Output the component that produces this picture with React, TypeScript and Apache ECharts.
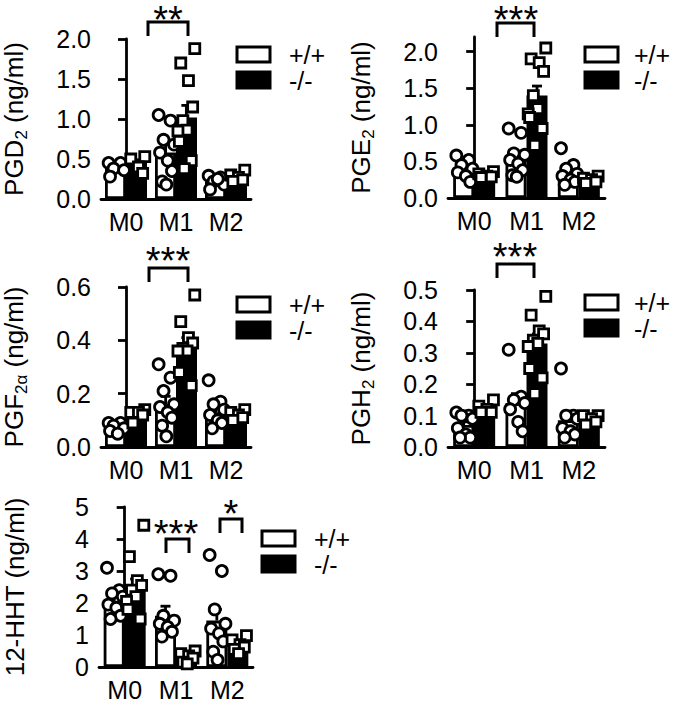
import React, { useEffect, useRef } from 'react';
import * as echarts from 'echarts';

const FONT = '"Liberation Sans", Arial, Helvetica, sans-serif';

const categories = ['M0', 'M1', 'M2'];
const legendNames = ['+/+', '-/-'];

// PGD2 (ng/ml)
const pgd2Ticks = [0, 0.5, 1.0, 1.5, 2.0];
const pgd2WtMean = [0.39, 0.58, 0.22];
const pgd2WtSem = [0.03, 0.1, 0.03];
const pgd2KoMean = [0.45, 1.02, 0.28];
const pgd2KoSem = [0.04, 0.15, 0.03];
const pgd2WtPts = [
  [0.45, 0.45, 0.38, 0.36, 0.28],
  [1.05, 0.98, 0.74, 0.68, 0.58, 0.48, 0.35, 0.22, 0.18],
  [0.29, 0.27, 0.22, 0.18, 0.12, 0.25],
];
const pgd2KoPts = [
  [0.53, 0.5, 0.4, 0.32],
  [1.88, 1.7, 1.48, 1.15, 0.98, 0.86, 0.85, 0.72, 0.48, 0.38],
  [0.36, 0.3, 0.27, 0.24, 0.22],
];

// PGE2 (ng/ml)
const pge2Ticks = [0, 0.5, 1.0, 1.5, 2.0];
const pge2WtMean = [0.4, 0.56, 0.34];
const pge2WtSem = [0.05, 0.08, 0.05];
const pge2KoMean = [0.32, 1.4, 0.25];
const pge2KoSem = [0.02, 0.13, 0.02];
const pge2WtPts = [
  [0.58, 0.52, 0.45, 0.4, 0.35, 0.3, 0.22],
  [0.95, 0.89, 0.61, 0.59, 0.52, 0.47, 0.38, 0.31, 0.29],
  [0.68, 0.45, 0.4, 0.33, 0.3, 0.25, 0.22, 0.18],
];
const pge2KoPts = [
  [0.36, 0.33, 0.3, 0.29, 0.28],
  [2.05, 1.9, 1.85, 1.73, 1.4, 1.22, 1.15, 1.1, 0.95, 0.72],
  [0.3, 0.27, 0.25, 0.22, 0.2],
];

// PGF2alpha (ng/ml)
const pgfTicks = [0, 0.2, 0.4, 0.6];
const pgfWtMean = [0.07, 0.16, 0.13];
const pgfWtSem = [0.01, 0.03, 0.02];
const pgfKoMean = [0.12, 0.38, 0.12];
const pgfKoSem = [0.01, 0.03, 0.01];
const pgfWtPts = [
  [0.09, 0.09, 0.08, 0.07, 0.06, 0.05],
  [0.31, 0.26, 0.21, 0.16, 0.15, 0.13, 0.11, 0.08, 0.04],
  [0.25, 0.17, 0.16, 0.14, 0.12, 0.1, 0.09, 0.07],
];
const pgfKoPts = [
  [0.14, 0.13, 0.13, 0.12, 0.09],
  [0.57, 0.47, 0.41, 0.39, 0.37, 0.36, 0.36, 0.28, 0.23],
  [0.14, 0.13, 0.12, 0.11, 0.1],
];

// PGH2 (ng/ml)
const pghTicks = [0, 0.1, 0.2, 0.3, 0.4, 0.5];
const pghWtMean = [0.07, 0.14, 0.085];
const pghWtSem = [0.01, 0.03, 0.025];
const pghKoMean = [0.125, 0.33, 0.09];
const pghKoSem = [0.01, 0.03, 0.005];
const pghWtPts = [
  [0.11, 0.1, 0.1, 0.09, 0.06, 0.04, 0.03, 0.03],
  [0.31, 0.16, 0.15, 0.14, 0.12, 0.08, 0.05],
  [0.25, 0.1, 0.1, 0.09, 0.06, 0.05, 0.04, 0.03],
];
const pghKoPts = [
  [0.15, 0.13, 0.12, 0.11, 0.11],
  [0.48, 0.42, 0.37, 0.36, 0.34, 0.33, 0.32, 0.25, 0.22, 0.17],
  [0.1, 0.1, 0.09, 0.08, 0.07],
];

// 12-HHT (ng/ml)
const hhtTicks = [0, 1, 2, 3, 4, 5];
const hhtWtMean = [2.05, 1.6, 1.45];
const hhtWtSem = [0.18, 0.3, 0.35];
const hhtKoMean = [2.55, 0.32, 0.68];
const hhtKoSem = [0.2, 0.07, 0.08];
const hhtWtPts = [
  [3.1, 2.4, 2.3, 2.2, 1.95, 1.85, 1.6, 1.5],
  [2.9, 2.85, 1.6, 1.45, 1.35, 1.25, 1.1, 0.95],
  [3.5, 3.0, 1.8, 1.35, 1.2, 1.05, 0.8, 0.48, 0.22],
];
const hhtKoPts = [
  [4.43, 3.45, 2.7, 2.55, 2.4, 2.2, 2.05, 1.8, 1.5],
  [0.5, 0.42, 0.35, 0.28, 0.15, 0.1],
  [0.98, 0.85, 0.7, 0.62, 0.55, 0.42],
];

const panels = [
  { name: '{a|PGD}{s|2}{a| (ng/ml)}', ticks: pgd2Ticks, max: 2, digits: 1, wtMean: pgd2WtMean, wtSem: pgd2WtSem, koMean: pgd2KoMean, koSem: pgd2KoSem, wtPts: pgd2WtPts, koPts: pgd2KoPts,
    grid: { left: 99, top: 39, width: 152, height: 160 } },
  { name: '{a|PGE}{s|2}{a| (ng/ml)}', ticks: pge2Ticks, max: 2.2, digits: 1, wtMean: pge2WtMean, wtSem: pge2WtSem, koMean: pge2KoMean, koSem: pge2KoSem, wtPts: pge2WtPts, koPts: pge2KoPts,
    grid: { left: 448, top: 37, width: 157, height: 161 } },
  { name: '{a|PGF}{s|2α}{a| (ng/ml)}', ticks: pgfTicks, max: 0.6, digits: 1, wtMean: pgfWtMean, wtSem: pgfWtSem, koMean: pgfKoMean, koSem: pgfKoSem, wtPts: pgfWtPts, koPts: pgfKoPts,
    grid: { left: 99, top: 287, width: 152, height: 160 } },
  { name: '{a|PGH}{s|2}{a| (ng/ml)}', ticks: pghTicks, max: 0.5, digits: 1, wtMean: pghWtMean, wtSem: pghWtSem, koMean: pghKoMean, koSem: pghKoSem, wtPts: pghWtPts, koPts: pghKoPts,
    grid: { left: 448, top: 290, width: 157, height: 157 } },
  { name: '{a|12-HHT (ng/ml)}', ticks: hhtTicks, max: 5, digits: 0, wtMean: hhtWtMean, wtSem: hhtWtSem, koMean: hhtKoMean, koSem: hhtKoSem, wtPts: hhtWtPts, koPts: hhtKoPts,
    grid: { left: 99, top: 507, width: 154, height: 160 } },
];

// annotation layout (pixels)
const brackets = [
  { x1: 148, x2: 188, top: 22, bottom: 36, stars: '**', sx: 168, sy: 11 },
  { x1: 497, x2: 534, top: 23, bottom: 37, stars: '***', sx: 516, sy: 11 },
  { x1: 149, x2: 188, top: 268, bottom: 282, stars: '***', sx: 168, sy: 252 },
  { x1: 497, x2: 534, top: 264, bottom: 278, stars: '***', sx: 515, sy: 248 },
  { x1: 166, x2: 189, top: 539, bottom: 553, stars: '***', sx: 176, sy: 525 },
  { x1: 220, x2: 242, top: 519, bottom: 533, stars: '*', sx: 231, sy: 505 },
];
const legends = [
  { x: 237, y: 47, tx: 289 },
  { x: 585, y: 47, tx: 634 },
  { x: 237, y: 297, tx: 289 },
  { x: 585, y: 295, tx: 634 },
  { x: 262, y: 531, tx: 314 },
];

const jitter = [-0.5, 0.35, -0.15, 0.6, -0.4, 0.15, 0.45, -0.25, 0.05, -0.6];

const BAR_W = 21;
const LW = 2.8;
const TICK_FS = 25;
const NAME_FS = 26;

function buildOption() {
  const grid: any[] = [];
  const xAxis: any[] = [];
  const yAxis: any[] = [];
  const series: any[] = [];
  const graphic: any[] = [];

  panels.forEach((p, g) => {
    grid.push({ ...p.grid, containLabel: false });
    xAxis.push({
      type: 'category', data: categories, gridIndex: g,
      axisLine: { lineStyle: { color: '#000', width: LW } },
      axisTick: { show: false },
      axisLabel: { color: '#000', fontSize: TICK_FS, fontFamily: FONT, margin: 10 },
    });
    xAxis.push({ type: 'value', gridIndex: g, min: -0.5, max: 2.5, show: false });
    yAxis.push({
      type: 'value', gridIndex: g, min: 0, max: p.max,
      axisLine: { show: true, lineStyle: { color: '#000', width: LW } },
      axisTick: { show: true, length: 8, lineStyle: { color: '#000', width: LW }, customValues: p.ticks },
      axisLabel: { color: '#000', fontSize: TICK_FS, fontFamily: FONT, margin: 10, customValues: p.ticks,
        formatter: (v: number) => v.toFixed(p.digits) },
      splitLine: { show: false },
      name: p.name, nameLocation: 'middle', nameRotate: 90, nameGap: 71,
      nameTextStyle: {
        rich: {
          a: { fontSize: NAME_FS, fontFamily: FONT, color: '#000' },
          s: { fontSize: 17, fontFamily: FONT, color: '#000', padding: [15, 0, 0, 0] },
        },
      },
    });
    const catW = p.grid.width / 3;
    const off = (BAR_W / 2) / catW;
    const common = { xAxisIndex: 2 * g, yAxisIndex: g, barWidth: BAR_W, barGap: '0%', z: 2 };
    series.push({ ...common, type: 'bar', name: legendNames[0], data: p.wtMean,
      itemStyle: { color: '#fff', borderColor: '#000', borderWidth: LW } });
    series.push({ ...common, type: 'bar', name: legendNames[1], data: p.koMean,
      itemStyle: { color: '#000', borderColor: '#000', borderWidth: LW } });

    const errData: any[] = [];
    p.wtMean.forEach((m, i) => errData.push([i - off, m, p.wtSem[i]]));
    p.koMean.forEach((m, i) => errData.push([i + off, m, p.koSem[i]]));
    series.push({
      type: 'custom', xAxisIndex: 2 * g + 1, yAxisIndex: g, z: 3, data: errData,
      encode: { x: 0, y: 1 },
      renderItem: (params: any, api: any) => {
        const x = api.value(0), m = api.value(1), s = api.value(2);
        const p0 = api.coord([x, m]);
        const p1 = api.coord([x, m + s]);
        return {
          type: 'group',
          children: [
            { type: 'line', shape: { x1: p0[0], y1: p0[1], x2: p1[0], y2: p1[1] }, style: { stroke: '#000', lineWidth: LW } },
            { type: 'line', shape: { x1: p1[0] - 5, y1: p1[1], x2: p1[0] + 5, y2: p1[1] }, style: { stroke: '#000', lineWidth: LW } },
          ],
        };
      },
    });

    const spread = 0.28;
    const wt: any[] = [];
    p.wtPts.forEach((arr, i) => arr.forEach((v, k) => wt.push([i - off + jitter[k % jitter.length] * spread, v])));
    const ko: any[] = [];
    p.koPts.forEach((arr, i) => arr.forEach((v, k) => ko.push([i + off + jitter[(k + 3) % jitter.length] * spread, v])));
    const ptStyle = { color: '#fff', borderColor: '#000', borderWidth: LW, opacity: 1 };
    series.push({ type: 'scatter', name: 'wt points', xAxisIndex: 2 * g + 1, yAxisIndex: g, z: 4, data: wt,
      symbol: 'circle', symbolSize: 11, itemStyle: ptStyle });
    series.push({ type: 'scatter', name: 'ko points', xAxisIndex: 2 * g + 1, yAxisIndex: g, z: 4, data: ko,
      symbol: 'rect', symbolSize: 10, itemStyle: ptStyle });
  });

  brackets.forEach((b) => {
    graphic.push({
      type: 'polyline', silent: true,
      shape: { points: [[b.x1, b.bottom], [b.x1, b.top], [b.x2, b.top], [b.x2, b.bottom]] },
      style: { stroke: '#000', lineWidth: 3, fill: null },
    });
    graphic.push({
      type: 'text', silent: true, x: b.sx, y: b.sy + 9,
      style: { text: b.stars, fontSize: 38, fontFamily: FONT, fill: '#000', align: 'center', verticalAlign: 'middle' },
    });
  });

  legends.forEach((l) => {
    graphic.push({ type: 'rect', silent: true, shape: { x: l.x, y: l.y, width: 33, height: 15 },
      style: { fill: '#fff', stroke: '#000', lineWidth: 3 } });
    graphic.push({ type: 'rect', silent: true, shape: { x: l.x, y: l.y + 25, width: 33, height: 16 },
      style: { fill: '#000', stroke: '#000', lineWidth: 3 } });
    graphic.push({ type: 'text', silent: true, x: l.tx, y: l.y + 8,
      style: { text: legendNames[0], fontSize: TICK_FS, fontFamily: FONT, fill: '#000', align: 'left', verticalAlign: 'middle' } });
    graphic.push({ type: 'text', silent: true, x: l.tx, y: l.y + 34,
      style: { text: legendNames[1], fontSize: TICK_FS, fontFamily: FONT, fill: '#000', align: 'left', verticalAlign: 'middle' } });
  });

  return {
    animation: false,
    backgroundColor: '#fff',
    grid, xAxis, yAxis, series, graphic,
  };
}

export default function App() {
  const ref = useRef<HTMLDivElement>(null);
  useEffect(() => {
    document.body.style.margin = '0';
    const chart = echarts.init(ref.current!, undefined, { renderer: 'svg' });
    chart.setOption(buildOption() as any);
    return () => chart.dispose();
  }, []);
  return <div ref={ref} style={{ width: 678, height: 705 }} />;
}
